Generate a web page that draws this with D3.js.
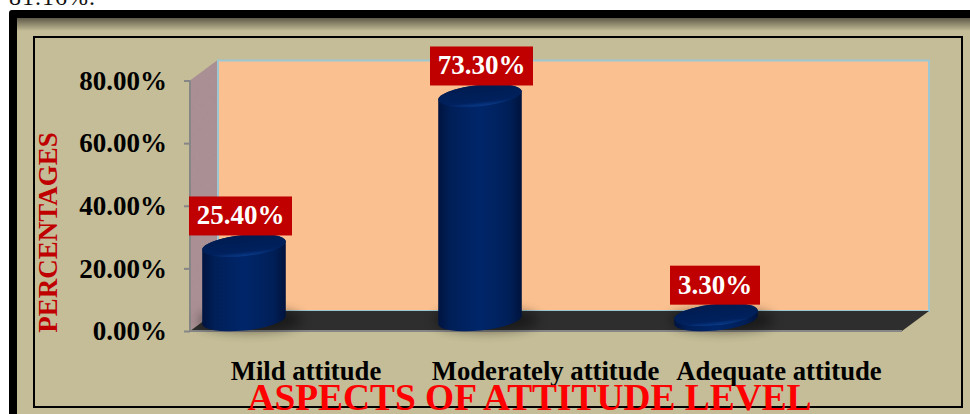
<!DOCTYPE html>
<html>
<head>
<meta charset="utf-8">
<script src="https://cdnjs.cloudflare.com/ajax/libs/d3/7.8.5/d3.min.js"></script>
<style>
  html, body { margin: 0; padding: 0; background: #fff; overflow: hidden; }
  svg { display: block; }
  text { font-family: "Liberation Serif", serif; font-weight: 700; }
</style>
</head>
<body>
<div id="chart"></div>
<script>
const categories = ["Mild attitude", "Moderately attitude", "Adequate attitude"]
const values = [25.40, 73.30, 3.30]
const ticks = [0, 20, 40, 60, 80]

let width = 970
let height = 414

// plot box, front face
let x0 = 190
let x1 = 902
let y_base = 331
let y_top = 80.5

// 3d depth of the box
let depth_x = 27
let depth_y = -20

// cylinder shape
let ell_a = 42
let ell_b = 10.5
let ell_deg = -6

let y = d3.scaleLinear().domain([0, 80]).range([y_base, y_top])
let x_bar = d3.scalePoint().domain(categories).range([244, 716])
let x_label = d3.scalePoint().domain(categories).range([306, 779])

// small hand shifts, the original labels do not sit on a regular grid
let label_nudge = [0, 3, 0]
let value_nudge = [-3.5, 1.5, -1]

let svg = d3.select("#chart").append("svg")
  .attr("viewBox", [0, 0, width, height])
  .attr("width", width)
  .attr("height", height)

let defs = svg.append("defs")

let top_shade = defs.append("linearGradient").attr("id", "topShade")
  .attr("x1", 0).attr("x2", 0).attr("y1", 0).attr("y2", 1)
top_shade.append("stop").attr("offset", 0).attr("stop-color", "#5e5a48")
top_shade.append("stop").attr("offset", 1).attr("stop-color", "#c4bd97")

let body_grad = defs.append("linearGradient").attr("id", "cylBody")
body_grad.append("stop").attr("offset", 0).attr("stop-color", "#00143f")
body_grad.append("stop").attr("offset", 0.15).attr("stop-color", "#001f58")
body_grad.append("stop").attr("offset", 0.5).attr("stop-color", "#00266a")
body_grad.append("stop").attr("offset", 0.85).attr("stop-color", "#001f58")
body_grad.append("stop").attr("offset", 1).attr("stop-color", "#00133c")

let cap_grad = defs.append("linearGradient").attr("id", "cylCap")
  .attr("x1", 0).attr("x2", 0).attr("y1", 0).attr("y2", 1)
cap_grad.append("stop").attr("offset", 0).attr("stop-color", "#001b50")
cap_grad.append("stop").attr("offset", 0.8).attr("stop-color", "#00215e")
cap_grad.append("stop").attr("offset", 1).attr("stop-color", "#0a3a88")

let wall_texture = defs.append("filter").attr("id", "wallTexture")
  .attr("x", 0).attr("y", 0).attr("width", "100%").attr("height", "100%")
wall_texture.append("feTurbulence")
  .attr("type", "fractalNoise").attr("baseFrequency", 0.25).attr("numOctaves", 2).attr("seed", 4)
wall_texture.append("feColorMatrix")
  .attr("values", "0 0 0 0 0.36  0 0 0 0 0.26  0 0 0 0 0.28  0.5 0 0 0 -0.12")
wall_texture.append("feComposite").attr("in2", "SourceGraphic").attr("operator", "in").attr("result", "noise")
let wall_merge = wall_texture.append("feMerge")
wall_merge.append("feMergeNode").attr("in", "SourceGraphic")
wall_merge.append("feMergeNode").attr("in", "noise")

defs.append("filter").attr("id", "soft")
  .attr("x", "-30%").attr("y", "-60%").attr("width", "160%").attr("height", "220%")
  .append("feGaussianBlur").attr("stdDeviation", 6)

// top text line cut off by the window
svg.append("text")
  .attr("x", 9).attr("y", 4.5)
  .attr("font-size", 24)
  .style("font-weight", 400)
  .style("letter-spacing", "1px")
  .attr("fill", "#111")
  .text("81.16%.")

// outer frame
svg.append("rect")
  .attr("x", 9).attr("y", 10)
  .attr("width", width + 30).attr("height", height + 30)
  .attr("rx", 3)
  .attr("fill", "#000")
svg.append("rect")
  .attr("x", 17).attr("y", 18)
  .attr("width", width).attr("height", height)
  .attr("fill", "#c4bd97")
svg.append("rect")
  .attr("x", 17).attr("y", 18)
  .attr("width", width).attr("height", 13)
  .attr("fill", "url(#topShade)")

// inner frame
svg.append("rect")
  .attr("x", 34).attr("y", 37)
  .attr("width", 928).attr("height", 370)
  .attr("fill", "none")
  .attr("stroke", "#000")
  .attr("stroke-width", 2)

// back wall
svg.append("rect")
  .attr("x", x0 + depth_x + 1).attr("y", y_top + depth_y)
  .attr("width", x1 - x0 - 1).attr("height", y_base - y_top)
  .attr("fill", "#fbc08f")
  .attr("stroke", "#9cc7d3")
  .attr("stroke-width", 2)

// side wall
svg.append("path")
  .attr("d", d3.line()([[x0, y_top], [x0 + depth_x, y_top + depth_y], [x0 + depth_x, y_base + depth_y], [x0, y_base]]))
  .attr("fill", "#ab9194")
  .attr("filter", "url(#wallTexture)")

// floor
svg.append("path")
  .attr("d", d3.line()([[x0, y_base], [x0 + depth_x, y_base + depth_y], [x1 + depth_x, y_base + depth_y], [x1, y_base]]))
  .attr("fill", "#2e2e2e")

// axis lines
svg.append("path")
  .attr("d", d3.line()([[x0, y_top], [x0, y_base], [x1, y_base]]))
  .attr("fill", "none")
  .attr("stroke", "#868686")
  .attr("stroke-width", 2)

let axis = d3.axisLeft(y)
  .tickValues(ticks)
  .tickSize(6)
  .tickPadding(17)
  .tickFormat(d => d3.format(".2f")(d) + "%")

let axis_g = svg.append("g")
  .attr("transform", `translate(${x0},0)`)
  .call(axis)
axis_g.select(".domain").remove()
axis_g.selectAll("line").attr("stroke", "#868686").attr("stroke-width", 2)
axis_g.selectAll("text")
  .attr("font-size", 27)
  .attr("font-family", "Liberation Serif")
  .attr("fill", "#000")

// cylinders
let rad = ell_deg * Math.PI / 180
let ext_x = Math.sqrt(ell_a ** 2 * Math.cos(rad) ** 2 + ell_b ** 2 * Math.sin(rad) ** 2)
let ext_y = (ell_a ** 2 - ell_b ** 2) * Math.abs(Math.sin(rad) * Math.cos(rad)) / ext_x

let base_cy = y(0) - 11
let top_cy = d => y(d) - 6

let bars = svg.selectAll("g.bar")
  .data(categories)
  .join("g")
  .attr("class", "bar")

bars.append("ellipse")
  .attr("cx", d => x_bar(d) + 6)
  .attr("cy", base_cy)
  .attr("rx", ell_a + 10)
  .attr("ry", ell_b + 1)
  .attr("fill", "#000")
  .attr("opacity", 0.45)
  .attr("filter", "url(#soft)")

bars.append("path")
  .attr("d", (d, i) => {
    let cx = x_bar(d)
    let ty = top_cy(values[i])
    return `M${cx - ext_x},${base_cy + ext_y}L${cx - ext_x},${ty + ext_y}`
      + `A${ell_a},${ell_b} ${ell_deg} 0 1 ${cx + ext_x},${ty - ext_y}`
      + `L${cx + ext_x},${base_cy - ext_y}`
      + `A${ell_a},${ell_b} ${ell_deg} 0 1 ${cx - ext_x},${base_cy + ext_y}Z`
  })
  .attr("fill", "url(#cylBody)")

bars.append("ellipse")
  .attr("transform", (d, i) => `translate(${x_bar(d)},${top_cy(values[i])}) rotate(${ell_deg})`)
  .attr("rx", ell_a)
  .attr("ry", ell_b)
  .attr("fill", "url(#cylCap)")

// value labels
let label_w = d => d >= 10 ? 103 : 90
let label_h = 39
let label_cx = (d, i) => x_bar(d) + value_nudge[i]

bars.append("rect")
  .attr("x", (d, i) => label_cx(d, i) - label_w(values[i]) / 2)
  .attr("y", (d, i) => top_cy(values[i]) - 10 - label_h)
  .attr("width", (d, i) => label_w(values[i]))
  .attr("height", label_h)
  .attr("fill", "#c00000")

bars.append("text")
  .attr("x", label_cx)
  .attr("y", (d, i) => top_cy(values[i]) - 10 - 11)
  .attr("text-anchor", "middle")
  .attr("font-size", 27)
  .attr("fill", "#fff")
  .text((d, i) => d3.format(".2f")(values[i]) + "%")

// category labels
svg.selectAll("text.cat")
  .data(categories)
  .join("text")
  .attr("class", "cat")
  .attr("x", (d, i) => x_label(d) + label_nudge[i])
  .attr("y", 380)
  .attr("text-anchor", "middle")
  .attr("font-size", 26.7)
  .attr("fill", "#000")
  .text(d => d)

// axis titles
svg.append("text")
  .attr("transform", "translate(56.5,232.5) rotate(-90)")
  .attr("text-anchor", "middle")
  .attr("font-size", 27)
  .attr("fill", "#c00000")
  .text("PERCENTAGES")

svg.append("text")
  .attr("x", 529.5).attr("y", 410)
  .attr("text-anchor", "middle")
  .attr("font-size", 37.4)
  .attr("fill", "#ff0000")
  .text("ASPECTS OF ATTITUDE LEVEL")
</script>
</body>
</html>
